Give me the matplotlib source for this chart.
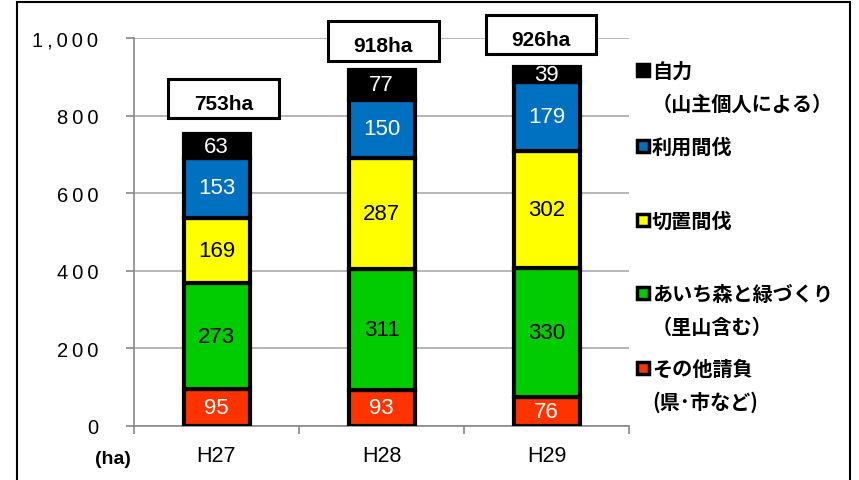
import numpy as np
import matplotlib.pyplot as plt
from matplotlib.patches import Rectangle

plt.rcParams['font.family'] = ['Liberation Sans', 'DejaVu Sans', 'Noto Sans CJK JP']

years = ['H27', 'H28', 'H29']
other = [95, 93, 76]        # その他請負
aichi = [273, 311, 330]     # あいち森と緑づくり
kirioki = [169, 287, 302]   # 切置間伐
riyou = [153, 150, 179]     # 利用間伐
jiriki = [63, 77, 39]       # 自力
totals = [753, 918, 926]
ytick_vals = [0, 200, 400, 600, 800, 1000]
ytick_labels = ['0', '200', '400', '600', '800', '1,000']

series = [other, aichi, kirioki, riyou, jiriki]
colors = ['#FF3300', '#00CC00', '#FFFF00', '#0070C0', '#000000']
text_colors = ['white', 'black', 'black', 'white', 'white']
legend_labels = ['その他請負\n(県･市など)', 'あいち森と緑づくり\n（里山含む）',
                 '切置間伐', '利用間伐', '自力\n（山主個人による）']

fig = plt.figure(figsize=(8.59, 4.81), dpi=100)
ax = fig.add_axes([134 / 859, 1 - 427 / 481, 495 / 859, 388 / 481])

x = np.arange(len(years))
bottom = np.zeros(len(years))
for vals, c, tc in zip(series, colors, text_colors):
    ax.bar(x, vals, 0.40, bottom=bottom, color=c, edgecolor='black',
           linewidth=3, zorder=3)
    for xi, b, v in zip(x, bottom, vals):
        ax.text(xi, b + v / 2, str(v), ha='center', va='center',
                color=tc, fontsize=16, zorder=4)
    bottom += vals

# total boxes, hand placed like in the original
box_y = [844, 993, 1009]
box_dx = [0.045, 0.01, -0.033]
for xi, t, by, dx in zip(x, totals, box_y, box_dx):
    ax.add_patch(Rectangle((xi + dx - 0.336, by - 51), 0.672, 102, facecolor='white',
                           edgecolor='black', linewidth=2.2, zorder=5, clip_on=False))
    ax.text(xi + dx, by - 13, f'{t}ha', ha='center', va='center', fontsize=15,
            fontweight='bold', zorder=6, clip_on=False)

ax.set_xlim(-0.5, 2.5)
ax.set_ylim(0, 1000)
ax.set_yticks(ytick_vals)
ax.set_yticklabels(['\u2009'.join(s) for s in ytick_labels], fontsize=14.5)
ax.set_xticks(x)
ax.set_xticklabels(years, fontsize=15.5)
ax.tick_params(axis='x', length=0, pad=14)
ax.set_xticks([-0.5, 0.5, 1.5, 2.5], minor=True)
ax.tick_params(axis='x', which='minor', length=5.5, color='#888888', width=1.2)
ax.tick_params(axis='y', length=5.8, color='#888888', width=1.2, pad=20)
ax.grid(axis='y', color='#aaaaaa', linewidth=1.2, zorder=0)
for s in ['top', 'right']:
    ax.spines[s].set_visible(False)
for s in ['left', 'bottom']:
    ax.spines[s].set_color('#888888')
    ax.spines[s].set_linewidth(1.2)

fig.text(113 / 859, 1 - 460 / 481, '(ha)', ha='center', va='center',
         fontsize=14, fontweight='bold')

# legend drawn by hand so the marker sits on the first line
leg_y = [369, 294, 221, 147, 71]
line_gap = 33
for lab, c, ly in zip(legend_labels, colors, leg_y):
    fig.patches.append(Rectangle((637 / 859, 1 - (ly + 6) / 481), 12 / 859, 12 / 481,
                                 facecolor=c, edgecolor='black', linewidth=2.5,
                                 transform=fig.transFigure, figure=fig))
    for i, line in enumerate(lab.split('\n')):
        fig.text(652 / 859, 1 - (ly + i * line_gap) / 481, line, ha='left',
                 va='center', fontsize=14.5, fontweight='bold',
                 family=['Noto Sans CJK JP', 'DejaVu Sans'])

# outer frame
fig.patches.append(Rectangle((17 / 859, -0.05), 833 / 859, 1.044, fill=False,
                             edgecolor='black', linewidth=1.5,
                             transform=fig.transFigure, figure=fig))

fig.savefig('out.png', dpi=100)
